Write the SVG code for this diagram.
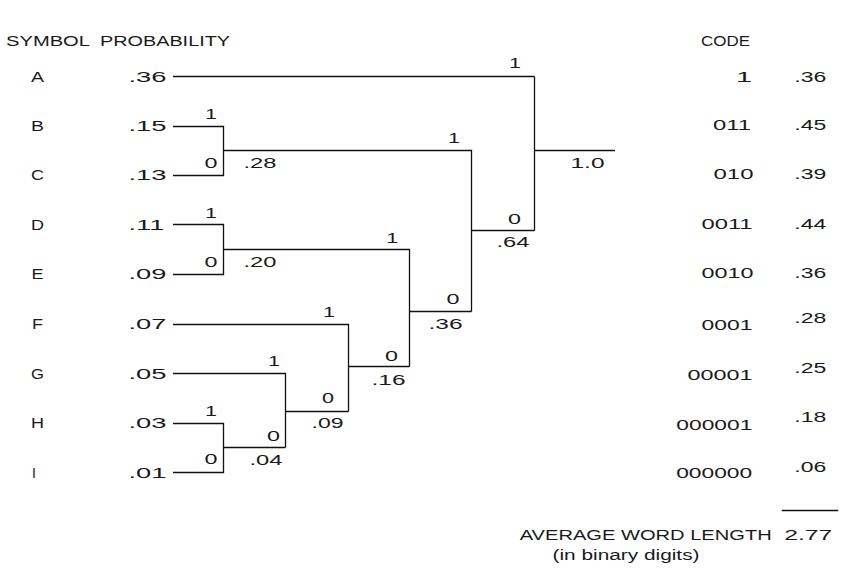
<svg xmlns="http://www.w3.org/2000/svg" width="865" height="584" viewBox="0 0 865 584">
<style>
  text { font-family: "Liberation Sans", Arial, sans-serif; font-size: 14px; fill: #1a1a1a; text-anchor: middle; }
  .ln { fill: none; stroke: #111; stroke-width: 1.3; }
</style>
<rect width="865" height="584" fill="#ffffff"/>

<g id="headers">
  <text x="48" y="46" textLength="84" lengthAdjust="spacingAndGlyphs">SYMBOL</text>
  <text x="165" y="46" textLength="130" lengthAdjust="spacingAndGlyphs">PROBABILITY</text>
  <text x="725.5" y="46" textLength="49" lengthAdjust="spacingAndGlyphs">CODE</text>
</g>

<g id="connectors">
  <path class="ln" d="M173,76.5 H534.5 M534.5,76.5 V230.5 M534.5,150.5 H615"/>
  <path class="ln" d="M173,126.5 H223.5 V175.5 H173 M223.5,150.5 H471.5 V311.5 M471.5,230.5 H534.5"/>
  <path class="ln" d="M173,224.5 H223.5 V274.5 H173 M223.5,249.5 H409.5 V366.5 M409.5,311.5 H471.5"/>
  <path class="ln" d="M173,324.5 H348.5 V411.5 M348.5,366.5 H409.5"/>
  <path class="ln" d="M173,373.5 H285.5 V447.5 M285.5,411.5 H348.5"/>
  <path class="ln" d="M173,423.5 H223.5 V472.5 H173 M223.5,447.5 H285.5"/>
</g>

<g id="edge-labels">
  <text x="515" y="68" textLength="12" lengthAdjust="spacingAndGlyphs">1</text>
  <text x="211" y="119" textLength="12" lengthAdjust="spacingAndGlyphs">1</text>
  <text x="211" y="168" textLength="13" lengthAdjust="spacingAndGlyphs">0</text>
  <text x="454" y="143" textLength="12" lengthAdjust="spacingAndGlyphs">1</text>
  <text x="211" y="217.5" textLength="12" lengthAdjust="spacingAndGlyphs">1</text>
  <text x="211" y="266.5" textLength="13" lengthAdjust="spacingAndGlyphs">0</text>
  <text x="392.3" y="243.3" textLength="12" lengthAdjust="spacingAndGlyphs">1</text>
  <text x="329" y="316.7" textLength="12" lengthAdjust="spacingAndGlyphs">1</text>
  <text x="274" y="365.7" textLength="12" lengthAdjust="spacingAndGlyphs">1</text>
  <text x="211" y="415.7" textLength="12" lengthAdjust="spacingAndGlyphs">1</text>
  <text x="211" y="464" textLength="13" lengthAdjust="spacingAndGlyphs">0</text>
  <text x="273.5" y="440.7" textLength="13" lengthAdjust="spacingAndGlyphs">0</text>
  <text x="328" y="403" textLength="12" lengthAdjust="spacingAndGlyphs">0</text>
  <text x="391.5" y="360.7" textLength="13" lengthAdjust="spacingAndGlyphs">0</text>
  <text x="453" y="304" textLength="13" lengthAdjust="spacingAndGlyphs">0</text>
  <text x="514.5" y="224" textLength="13" lengthAdjust="spacingAndGlyphs">0</text>
</g>

<g id="leaf-A"><text x="37.5" y="81.7" textLength="13" lengthAdjust="spacingAndGlyphs">A</text><text x="147.5" y="81.7" textLength="38" lengthAdjust="spacingAndGlyphs">.36</text></g>
<g id="leaf-B"><text x="37.5" y="131" textLength="13" lengthAdjust="spacingAndGlyphs">B</text><text x="147.5" y="131" textLength="38" lengthAdjust="spacingAndGlyphs">.15</text></g>
<g id="leaf-C"><text x="37.5" y="180.3" textLength="13" lengthAdjust="spacingAndGlyphs">C</text><text x="147.5" y="180.3" textLength="38" lengthAdjust="spacingAndGlyphs">.13</text></g>
<g id="leaf-D"><text x="37.5" y="229.5" textLength="13" lengthAdjust="spacingAndGlyphs">D</text><text x="146.5" y="229.5" textLength="36" lengthAdjust="spacingAndGlyphs">.11</text></g>
<g id="leaf-E"><text x="37.5" y="279.3" textLength="12" lengthAdjust="spacingAndGlyphs">E</text><text x="147.5" y="279.3" textLength="38" lengthAdjust="spacingAndGlyphs">.09</text></g>
<g id="leaf-F"><text x="37.5" y="329.3" textLength="11" lengthAdjust="spacingAndGlyphs">F</text><text x="147.5" y="329.3" textLength="38" lengthAdjust="spacingAndGlyphs">.07</text></g>
<g id="leaf-G"><text x="37.5" y="378.8" textLength="13" lengthAdjust="spacingAndGlyphs">G</text><text x="147.5" y="378.8" textLength="38" lengthAdjust="spacingAndGlyphs">.05</text></g>
<g id="leaf-H"><text x="37.5" y="428.3" textLength="13" lengthAdjust="spacingAndGlyphs">H</text><text x="147.5" y="428.3" textLength="38" lengthAdjust="spacingAndGlyphs">.03</text></g>
<g id="leaf-I"><text x="34" y="477.5">I</text><text x="147.5" y="477.5" textLength="38" lengthAdjust="spacingAndGlyphs">.01</text></g>

<g id="node-028"><text x="260" y="168" textLength="33" lengthAdjust="spacingAndGlyphs">.28</text></g>
<g id="node-020"><text x="260" y="266.7" textLength="33" lengthAdjust="spacingAndGlyphs">.20</text></g>
<g id="node-004"><text x="266" y="465" textLength="33" lengthAdjust="spacingAndGlyphs">.04</text></g>
<g id="node-009"><text x="327.5" y="428" textLength="32" lengthAdjust="spacingAndGlyphs">.09</text></g>
<g id="node-016"><text x="388.5" y="385" textLength="34" lengthAdjust="spacingAndGlyphs">.16</text></g>
<g id="node-036"><text x="445.5" y="329.3" textLength="34" lengthAdjust="spacingAndGlyphs">.36</text></g>
<g id="node-064"><text x="513" y="247" textLength="33" lengthAdjust="spacingAndGlyphs">.64</text></g>
<g id="node-root"><text x="587.5" y="168" textLength="34" lengthAdjust="spacingAndGlyphs">1.0</text></g>

<g id="code-A"><text x="744" y="81.7" textLength="16" lengthAdjust="spacingAndGlyphs">1</text><text x="810.3" y="81.7" textLength="32" lengthAdjust="spacingAndGlyphs">.36</text></g>
<g id="code-B"><text x="732" y="130" textLength="38" lengthAdjust="spacingAndGlyphs">011</text><text x="810.3" y="130" textLength="32" lengthAdjust="spacingAndGlyphs">.45</text></g>
<g id="code-C"><text x="733.5" y="179.3" textLength="40" lengthAdjust="spacingAndGlyphs">010</text><text x="810.3" y="179.3" textLength="32" lengthAdjust="spacingAndGlyphs">.39</text></g>
<g id="code-D"><text x="727" y="229.3" textLength="51" lengthAdjust="spacingAndGlyphs">0011</text><text x="810.3" y="229.3" textLength="32" lengthAdjust="spacingAndGlyphs">.44</text></g>
<g id="code-E"><text x="727.5" y="278.3" textLength="52" lengthAdjust="spacingAndGlyphs">0010</text><text x="810.3" y="278.3" textLength="32" lengthAdjust="spacingAndGlyphs">.36</text></g>
<g id="code-F"><text x="727" y="330" textLength="51" lengthAdjust="spacingAndGlyphs">0001</text><text x="810.3" y="322.7" textLength="32" lengthAdjust="spacingAndGlyphs">.28</text></g>
<g id="code-G"><text x="720" y="380" textLength="65" lengthAdjust="spacingAndGlyphs">00001</text><text x="810.3" y="373" textLength="32" lengthAdjust="spacingAndGlyphs">.25</text></g>
<g id="code-H"><text x="714.3" y="430" textLength="76" lengthAdjust="spacingAndGlyphs">000001</text><text x="810.3" y="421.7" textLength="32" lengthAdjust="spacingAndGlyphs">.18</text></g>
<g id="code-I"><text x="714.2" y="478" textLength="76" lengthAdjust="spacingAndGlyphs">000000</text><text x="810.3" y="471.7" textLength="32" lengthAdjust="spacingAndGlyphs">.06</text></g>

<g id="summary">
  <path class="ln" d="M781.7,510.5 H838.3"/>
  <text x="645.7" y="540" textLength="252" lengthAdjust="spacingAndGlyphs">AVERAGE WORD LENGTH</text>
  <text x="808.3" y="540" textLength="48" lengthAdjust="spacingAndGlyphs">2.77</text>
  <text x="626" y="560" textLength="147" lengthAdjust="spacingAndGlyphs">(in binary digits)</text>
</g>
</svg>
